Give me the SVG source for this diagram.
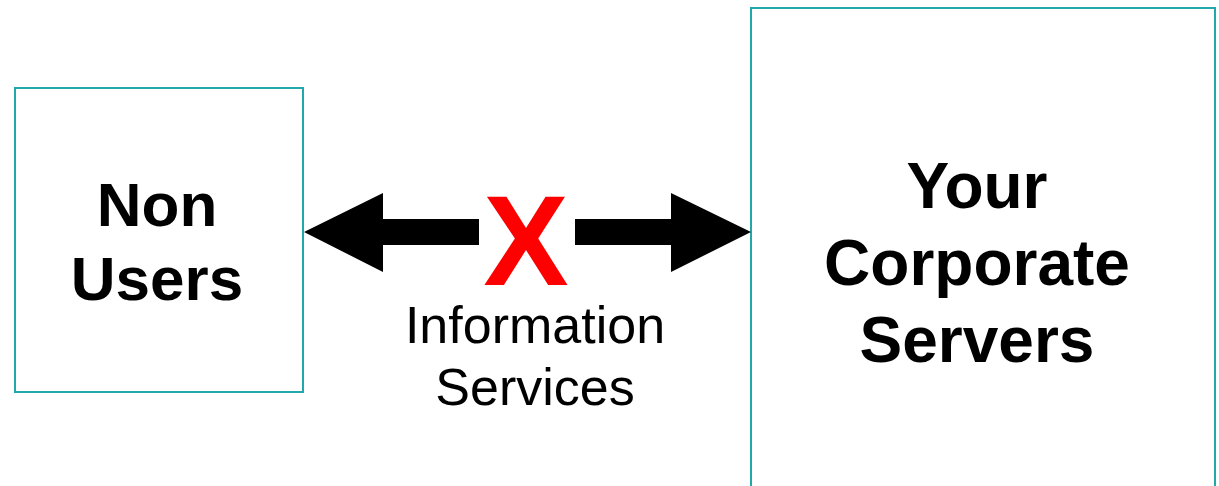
<svg xmlns="http://www.w3.org/2000/svg" width="1219" height="486" viewBox="0 0 1219 486">
<style>
.box{fill:#fff;stroke:#22a8a8;stroke-width:2}
.lbl{font-family:"Liberation Sans",Arial,sans-serif;font-weight:bold;fill:#000;text-anchor:middle}
.arrow{fill:#000}
</style>
<rect width="1219" height="486" fill="#fff"/>
<g id="non-users">
<rect class="box" x="15" y="88" width="288" height="304"/>
<text class="lbl" font-size="62" x="157" y="226">Non</text>
<text class="lbl" font-size="62" x="157" y="300">Users</text>
</g>
<g id="corporate-servers">
<rect class="box" x="751" y="8" width="464" height="490"/>
<text class="lbl" font-size="64" x="977" y="208">Your</text>
<text class="lbl" font-size="64" x="977" y="285">Corporate</text>
<text class="lbl" font-size="64" x="977" y="362">Servers</text>
</g>
<g id="connectors">
<polygon class="arrow" points="304,232 383,193 383,219 479,219 479,245 383,245 383,272"/>
<polygon class="arrow" points="751,232 671,193 671,219 575,219 575,245 671,245 671,272"/>
<text font-family="Liberation Sans,Arial,sans-serif" font-weight="bold" font-size="128" fill="#ff0000" text-anchor="middle" x="526" y="285">X</text>
<text font-family="Liberation Sans,Arial,sans-serif" font-size="52" fill="#000" text-anchor="middle" x="535" y="343">Information</text>
<text font-family="Liberation Sans,Arial,sans-serif" font-size="52" fill="#000" text-anchor="middle" x="535" y="405">Services</text>
</g>
</svg>
